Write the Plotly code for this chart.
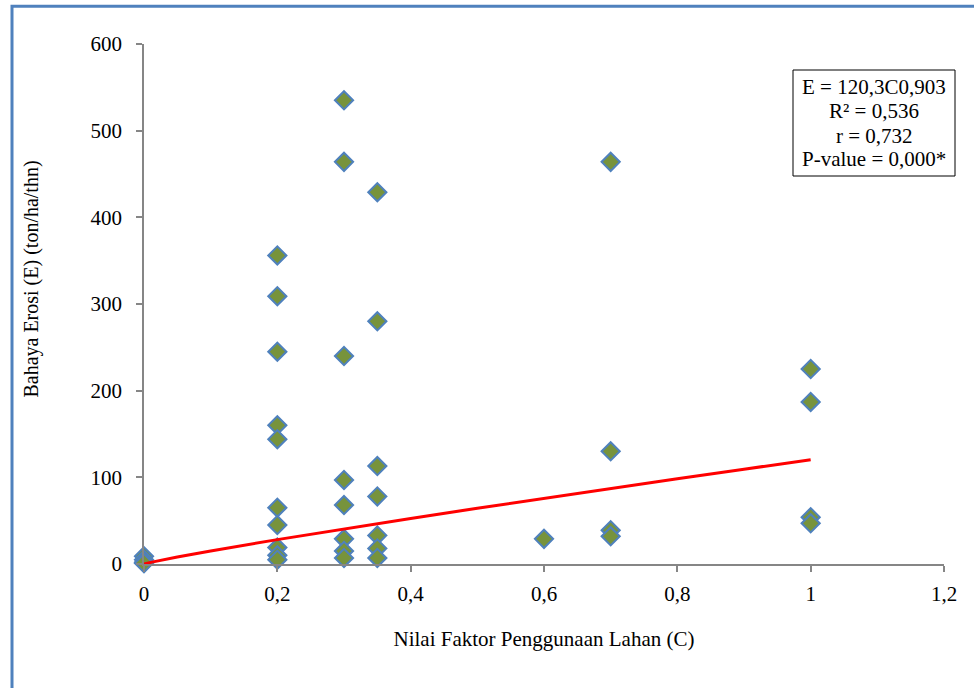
import plotly.graph_objects as go

# Data
c_values = [0, 0, 0, 0,
            0.2, 0.2, 0.2, 0.2, 0.2, 0.2, 0.2, 0.2, 0.2, 0.2,
            0.3, 0.3, 0.3, 0.3, 0.3, 0.3, 0.3, 0.3,
            0.35, 0.35, 0.35, 0.35, 0.35, 0.35, 0.35,
            0.6,
            0.7, 0.7, 0.7, 0.7,
            1.0, 1.0, 1.0, 1.0]
e_values = [9, 5, 2, 1,
            356, 309, 245, 160, 144, 65, 45, 19, 10, 5,
            535, 464, 240, 97, 68, 29, 15, 7,
            429, 280, 113, 78, 33, 18, 7,
            29,
            464, 130, 39, 32,
            225, 187, 54, 47]

# Power trend line coefficients: E = a * C^b
trend_a = 120.3
trend_b = 0.903
trend_c = [0, 0.001, 0.01, 0.05, 0.1, 0.2, 0.3, 0.4, 0.5, 0.6, 0.7, 0.8, 0.9, 1.0]
trend_e = [trend_a * (c ** trend_b) if c > 0 else 0 for c in trend_c]

x_tickvals = [0, 0.2, 0.4, 0.6, 0.8, 1.0, 1.2]
x_ticktext = ["0", "0,2", "0,4", "0,6", "0,8", "1", "1,2"]
y_tickvals = [0, 100, 200, 300, 400, 500, 600]

stats_lines = ["E = 120,3C0,903", "R² = 0,536", "r = 0,732", "P-value = 0,000*"]
stats_line_px = [87, 111, 136, 159]

FF = "Times New Roman"
FS = 21

fig = go.Figure()
fig.add_trace(go.Scatter(
    x=c_values, y=e_values, mode="markers",
    marker=dict(symbol="diamond", size=14, color="#77933C",
                line=dict(color="#4F81BD", width=2)),
    cliponaxis=False, showlegend=False,
))
fig.add_trace(go.Scatter(
    x=trend_c, y=trend_e, mode="lines",
    line=dict(color="#FF0000", width=3),
    cliponaxis=False, showlegend=False,
))

annotations = []
for txt, py in zip(stats_lines, stats_line_px):
    annotations.append(dict(
        text=txt, xref="paper", yref="paper",
        x=(874 - 144) / 800, y=(564 - py) / 520,
        xanchor="center", yanchor="middle", showarrow=False,
        font=dict(size=FS, family=FF, color="black")))

# invisible padding so the rotated title sits a little above the plot centre
y_title = '<span style="color:white">00000</span>Bahaya Erosi (E) (ton/ha/thn)'

fig.update_layout(
    template="none",
    width=974, height=688,
    margin=dict(l=144, r=30, t=44, b=124),
    font=dict(family=FF, size=FS, color="black"),
    xaxis=dict(range=[0, 1.2], tickvals=x_tickvals, ticktext=x_ticktext,
               showgrid=False, zeroline=False, showline=True,
               linecolor="#868686", linewidth=1.5,
               ticks="outside", ticklen=6, tickcolor="#868686", tickwidth=1.5,
               ticklabelstandoff=4,
               tickfont=dict(size=FS, family=FF, color="black"),
               title=dict(text="Nilai Faktor Penggunaan Lahan (C)",
                          font=dict(size=FS, family=FF, color="black"), standoff=26)),
    yaxis=dict(range=[0, 600], tickvals=y_tickvals,
               showgrid=False, zeroline=False, showline=True,
               linecolor="#868686", linewidth=1.5,
               ticks="outside", ticklen=6, tickcolor="#868686", tickwidth=1.5,
               ticklabelstandoff=10,
               tickfont=dict(size=FS, family=FF, color="black"),
               title=dict(text=y_title,
                          font=dict(size=20, family=FF, color="black"), standoff=47)),
    shapes=[
        dict(type="rect", xref="paper", yref="paper",
             x0=-0.1650, x1=1.06, y0=-0.27, y1=1.0725,
             line=dict(color="#4F81BD", width=3), fillcolor="rgba(0,0,0,0)"),
        dict(type="rect", xref="paper", yref="paper",
             x0=(793 - 144) / 800, x1=(955 - 144) / 800,
             y0=(564 - 176) / 520, y1=(564 - 70) / 520,
             line=dict(color="black", width=1), fillcolor="white"),
    ],
    annotations=annotations,
)

fig.write_html("out.html")
